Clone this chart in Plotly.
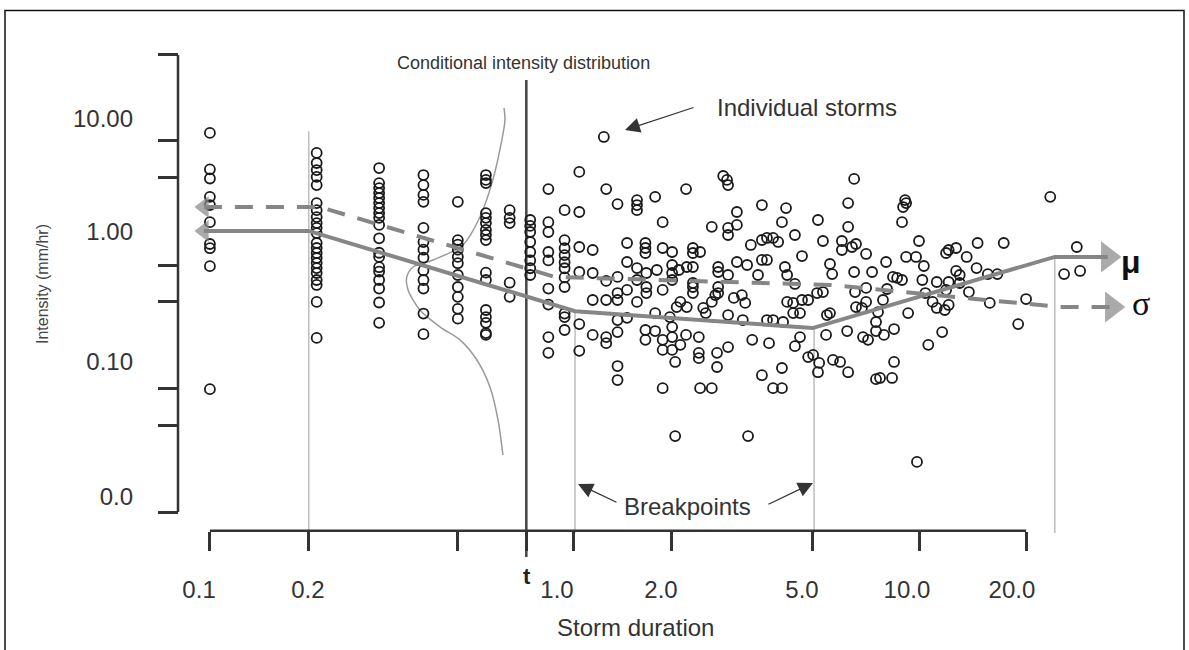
import plotly.graph_objects as go

# ---------------- data ----------------
col_duration = [0.1, 0.2, 0.3, 0.4, 0.5, 0.6, 0.7, 0.8, 0.9, 1.0]
col_intensity = [
    [6.3, 3.2, 2.7, 1.92, 1.65, 1.2, 0.80, 0.74, 0.53, 0.054],
    [4.34, 3.6, 3.16, 2.78, 2.39, 1.71, 1.5, 1.32, 1.18, 1.08, 0.98, 0.815, 0.743, 0.677,
     0.617, 0.562, 0.512, 0.467, 0.41, 0.374, 0.273, 0.14],
    [3.28, 2.48, 2.26, 2.06, 1.88, 1.71, 1.56, 1.42, 1.3, 1.14, 0.89, 0.68, 0.63, 0.52,
     0.48, 0.41, 0.35, 0.27, 0.185],
    [2.88, 2.39, 1.99, 1.75, 1.08, 0.83, 0.72, 0.62, 0.49, 0.41, 0.35, 0.22, 0.15],
    [1.75, 0.86, 0.79, 0.72, 0.63, 0.56, 0.45, 0.36, 0.30, 0.24, 0.20],
    [2.88, 2.63, 2.48, 1.42, 1.3, 1.18, 1.04, 0.95, 0.86, 0.47, 0.41, 0.235, 0.206, 0.185,
     0.153, 0.148],
    [1.5, 1.3, 1.18, 0.39, 0.30],
    [1.25, 1.12, 1.0, 0.83, 0.69, 0.59, 0.51, 0.45],
    [2.22, 1.2, 1.0, 0.69, 0.59, 0.35, 0.26, 0.142, 0.106],
    [1.5, 0.86, 0.74, 0.65, 0.57, 0.51, 0.43, 0.36, 0.22, 0.206, 0.162],
]

cloud_duration = [
    1.29, 1.10, 1.31, 2.20, 2.80, 2.87, 2.89, 1.41, 1.60, 1.60, 1.60, 1.80, 1.10, 1.89, 3.06,
    3.60, 4.21, 2.60, 2.89, 2.89, 3.06, 4.10, 4.46, 1.10, 1.20, 1.50, 1.69, 1.69, 1.69, 1.89,
    2.01, 2.30, 2.30, 2.41, 1.10, 1.20, 1.31, 1.41, 1.50, 1.60, 1.60, 1.70, 1.70, 1.70, 1.82,
    1.89, 2.01, 2.01, 2.01, 2.10, 2.21, 2.30, 2.30, 2.30, 2.71, 2.71, 2.71, 2.71, 2.89, 3.06,
    3.27, 3.35, 3.60, 3.72, 3.87, 4.00, 3.60, 3.72, 4.18, 4.24, 3.51, 1.20, 1.31, 1.41, 1.41,
    1.50, 1.60, 1.41, 1.50, 1.80, 1.98, 2.07, 2.12, 2.21, 2.30, 2.46, 2.50, 2.60, 2.66, 2.89,
    3.00, 3.16, 3.23, 3.18, 3.72, 3.87, 4.41, 4.41, 1.10, 1.10, 1.20, 1.31, 1.31, 1.41, 1.41,
    1.41, 1.69, 1.69, 1.80, 1.89, 1.89, 2.01, 2.01, 2.01, 2.05, 2.12, 2.20, 2.39, 2.39, 2.39,
    2.69, 2.69, 2.89, 3.38, 3.77, 3.60, 4.10, 1.89, 2.41, 2.60, 3.87, 4.10, 2.05, 3.29,
    6.55, 23.4, 6.30, 9.12, 9.18, 9.00, 8.94, 5.18, 6.30, 5.35, 6.05, 6.05, 6.63, 6.46, 7.08,
    4.67, 9.98, 14.6, 17.3, 5.60, 5.68, 6.55, 7.36, 8.06, 9.18, 9.79, 10.3, 11.9, 12.1, 12.7,
    13.6, 14.5, 15.6, 16.6, 12.7, 13.0, 4.46, 4.24, 4.67, 4.86, 5.15, 5.35, 6.59, 7.08, 7.08,
    8.11, 8.43, 8.66, 8.94, 10.2, 11.2, 11.9, 12.1, 13.0, 13.8, 15.8, 20.0, 19.0, 4.61, 5.49,
    5.60, 6.89, 6.63, 7.90, 7.65, 9.30, 10.4, 10.9, 11.2, 11.8, 12.1, 4.13, 5.46, 6.26, 7.55,
    7.55, 7.95, 8.49, 10.6, 11.6, 6.94, 7.17, 4.46, 4.61, 4.86, 5.02, 5.22, 5.18, 5.71, 5.98,
    6.30, 8.49, 7.55, 7.75, 8.38, 27.8, 25.6, 28.4, 9.85,
]
cloud_intensity = [
    5.84, 3.05, 2.22, 2.22, 2.83, 2.63, 2.39, 1.68, 1.81, 1.65, 1.50, 1.92, 1.45, 1.20, 1.45,
    1.65, 1.56, 1.10, 1.08, 0.946, 1.14, 1.20, 0.946, 0.757, 0.716, 0.815, 0.815, 0.743, 0.677, 0.743,
    0.690, 0.743, 0.677, 0.690, 0.476, 0.467, 0.403, 0.434, 0.573, 0.512, 0.410, 0.467, 0.360, 0.322, 0.494,
    0.341, 0.542, 0.467, 0.410, 0.494, 0.522, 0.522, 0.360, 0.322, 0.522, 0.476, 0.360, 0.322, 0.450, 0.573,
    0.542, 0.786, 0.862, 0.895, 0.895, 0.831, 0.595, 0.595, 0.522, 0.450, 0.450, 0.283, 0.283, 0.283, 0.322,
    0.341, 0.273, 0.195, 0.203, 0.222, 0.206, 0.248, 0.273, 0.248, 0.388, 0.244, 0.222, 0.273, 0.310, 0.214,
    0.294, 0.310, 0.268, 0.195, 0.195, 0.195, 0.222, 0.268, 0.181, 0.110, 0.148, 0.142, 0.127, 0.156, 0.083,
    0.064, 0.162, 0.135, 0.159, 0.135, 0.112, 0.171, 0.142, 0.112, 0.0895, 0.123, 0.148, 0.142, 0.106, 0.096,
    0.106, 0.0815, 0.118, 0.135, 0.127, 0.070, 0.080, 0.055, 0.055, 0.055, 0.055, 0.055, 0.0226, 0.0226,
    2.68, 1.92, 1.71, 1.81, 1.71, 1.59, 1.20, 1.25, 1.10, 0.846, 0.846, 0.716, 0.800, 0.757, 0.665,
    0.640, 0.846, 0.815, 0.815, 0.552, 0.458, 0.476, 0.476, 0.573, 0.629, 0.629, 0.532, 0.677, 0.716, 0.743,
    0.629, 0.512, 0.458, 0.458, 0.485, 0.450, 0.381, 0.273, 0.283, 0.283, 0.322, 0.328, 0.328, 0.354, 0.273,
    0.347, 0.434, 0.426, 0.410, 0.410, 0.395, 0.341, 0.395, 0.388, 0.328, 0.268, 0.288, 0.181, 0.222, 0.214,
    0.222, 0.244, 0.248, 0.283, 0.226, 0.222, 0.322, 0.273, 0.244, 0.235, 0.258, 0.188, 0.148, 0.159, 0.188,
    0.159, 0.148, 0.165, 0.123, 0.156, 0.142, 0.135, 0.120, 0.142, 0.098, 0.102, 0.088, 0.074, 0.093, 0.0895,
    0.074, 0.0895, 0.065, 0.0665, 0.0665, 0.757, 0.458, 0.485, 0.0140,
]

mu_duration = [0.0962, 0.19, 1.07, 5.0, 24.1, 34.0]
mu_intensity = [1.02, 1.02, 0.23, 0.168, 0.63, 0.63]
sigma_duration = [0.0962, 0.204, 0.94, 5.6, 24.9, 34.9]
sigma_intensity = [1.59, 1.59, 0.434, 0.374, 0.2485, 0.2485]

cond_duration = [0.675, 0.679, 0.657, 0.624, 0.577, 0.517, 0.426, 0.374, 0.359, 0.362,
                 0.391, 0.446, 0.507, 0.566, 0.616, 0.649, 0.670]
cond_intensity = [10.0, 8.0, 4.59, 2.48, 1.32, 0.786, 0.595, 0.522, 0.434, 0.340,
                  0.235, 0.171, 0.135, 0.0928, 0.0562, 0.0305, 0.0159]

breakpoint_duration = [0.19, 1.07, 5.05, 24.1]
breakpoint_top = [6.5, 0.23, 0.168, 0.63]
t_duration = 0.78

x_tick_marks = [0.1, 0.19, 0.5, 0.78, 1.06, 2.0, 5.0, 10.0, 20.0]
x_tick_labels = ["0.1", "0.2", "1.0", "2.0", "5.0", "10.0", "20.0"]
x_label_pos = [0.0932, 0.189, 0.952, 1.87, 4.67, 9.23, 18.25]

y_tick_marks = [26.8, 5.42, 2.73, 0.532, 0.273, 0.0542, 0.0273, 0.00552]
y_tick_labels = ["10.00", "1.00", "0.10", "0.0"]
y_label_pos = [8.15, 1.0, 0.0895, 0.0073]

# ---------------- layout geometry ----------------
W, H = 1189, 650
X_ONE_PIX, X_DEC = 564.6, 354.7      # pixel column of duration 1, pixels per decade
Y_ONE_PIX, Y_DEC = 232.0, 124.0      # pixel row of intensity 1, pixels per decade


def xval(px):
    return 10 ** ((px - X_ONE_PIX) / X_DEC)


def yval(py):
    return 10 ** ((Y_ONE_PIX - py) / Y_DEC)


def px_(px):
    return px / W


def py_(py):
    return 1 - py / H


XAXIS_ROW = 530.7
YAXIS_COL = 178.0
x_range = [(0 - X_ONE_PIX) / X_DEC, (W - X_ONE_PIX) / X_DEC]
y_range = [(Y_ONE_PIX - H) / Y_DEC, Y_ONE_PIX / Y_DEC]

FONT = "Liberation Sans, Arial, sans-serif"
AX = "#333333"
GRAY = "#868686"
LGRAY = "#bdbdbd"

storm_x, storm_y = [], []
for d, ints in zip(col_duration, col_intensity):
    for v in ints:
        storm_x.append(d)
        storm_y.append(v)
storm_x += cloud_duration
storm_y += cloud_intensity

fig = go.Figure()
base_y = yval(XAXIS_ROW)

# breakpoint reference lines
for bx, bt in zip(breakpoint_duration, breakpoint_top):
    fig.add_trace(go.Scatter(x=[bx, bx], y=[bt, yval(533)], mode="lines",
                             line=dict(color=LGRAY, width=1.5), hoverinfo="skip", showlegend=False))
# conditional time t
fig.add_trace(go.Scatter(x=[t_duration, t_duration], y=[yval(80), yval(557)], mode="lines",
                         line=dict(color="#444444", width=2.5), hoverinfo="skip", showlegend=False))
# axis lines
fig.add_trace(go.Scatter(x=[x_tick_marks[0], x_tick_marks[-1]], y=[base_y, base_y], mode="lines",
                         line=dict(color=AX, width=2.5), hoverinfo="skip", showlegend=False))
fig.add_trace(go.Scatter(x=[xval(YAXIS_COL)] * 2, y=[y_tick_marks[-1], y_tick_marks[0]], mode="lines",
                         line=dict(color=AX, width=2.5), hoverinfo="skip", showlegend=False))
# conditional distribution curve
fig.add_trace(go.Scatter(x=cond_duration, y=cond_intensity, mode="lines",
                         line=dict(color="#9a9a9a", width=1.5, shape="spline", smoothing=0.8),
                         hoverinfo="skip", showlegend=False))
# storms
fig.add_trace(go.Scatter(x=storm_x, y=storm_y, mode="markers",
                         marker=dict(symbol="circle-open", size=10, color="#1a1a1a",
                                     line=dict(width=1.8, color="#1a1a1a")),
                         showlegend=False))
# mu and sigma lines with arrow heads
n = len(mu_duration)
fig.add_trace(go.Scatter(x=mu_duration, y=mu_intensity, mode="lines+markers",
                         line=dict(color=GRAY, width=4),
                         marker=dict(symbol=["triangle-left"] + ["circle"] * (n - 2) + ["triangle-right"],
                                     size=[19] + [0] * (n - 2) + [27], color=GRAY, line=dict(width=0)),
                         showlegend=False))
fig.add_trace(go.Scatter(x=sigma_duration, y=sigma_intensity, mode="lines+markers",
                         line=dict(color=GRAY, width=4, dash="18px,13px"),
                         marker=dict(symbol=["triangle-left"] + ["circle"] * (n - 2) + ["triangle-right"],
                                     size=[19] + [0] * (n - 2) + [27], color=GRAY, line=dict(width=0)),
                         showlegend=False))
# dummy trace for label axes
fig.add_trace(go.Scatter(x=[1], y=[1], xaxis="x2", yaxis="y2", mode="markers",
                         marker=dict(opacity=0), hoverinfo="skip", showlegend=False))


def label(text, x, y, size, color="#333", family=FONT, **kw):
    return dict(text=text, x=px_(x), y=py_(y), xref="paper", yref="paper",
                xanchor=kw.pop("xanchor", "center"), yanchor="middle", showarrow=False,
                font=dict(size=size, color=color, family=family), **kw)


ann = [
    label("Conditional intensity distribution", 523, 63, 18),
    label("Individual storms", 715, 107, 24, xanchor="left"),
    label("Breakpoints", 687, 506, 24),
    label("Storm duration", 636, 627, 24),
    label("Intensity (mm/hr)", 42, 284, 16, color="#444", textangle=-90),
    label("<b>t</b>", 527, 576, 22, color="#222"),
    label("<b>μ</b>", 1131, 262, 32, color="#111"),
    label("σ", 1141, 304, 34, color="#111", family="Liberation Serif, serif"),
]
# arrows
for tip, tail in [((625, 130), (695, 107)), ((578, 484), (618, 503)), ((813, 483), (767, 505))]:
    ann.append(dict(text="", x=px_(tip[0]), y=py_(tip[1]), xref="paper", yref="paper",
                    ax=tail[0] - tip[0], ay=tail[1] - tip[1], showarrow=True,
                    arrowhead=2, arrowsize=2.3, arrowwidth=1.3, arrowcolor="#333"))

common = dict(type="log", showgrid=False, zeroline=False, showline=False)
fig.update_layout(
    width=W, height=H, autosize=False,
    margin=dict(l=0, r=0, t=0, b=0),
    paper_bgcolor="white", plot_bgcolor="white",
    hovermode=False,
    xaxis=dict(**common, range=x_range, anchor="free", position=py_(XAXIS_ROW),
               tickmode="array", tickvals=x_tick_marks, ticks="outside", ticklen=19, tickwidth=2.5,
               tickcolor=AX, showticklabels=False),
    xaxis2=dict(**common, range=x_range, overlaying="x", anchor="free", position=py_(573),
                tickmode="array", tickvals=x_label_pos, ticktext=x_tick_labels, ticks="",
                tickfont=dict(size=24, color="#333", family=FONT)),
    yaxis=dict(**common, range=y_range, anchor="free", position=px_(YAXIS_COL),
               tickmode="array", tickvals=y_tick_marks, ticks="outside", ticklen=20, tickwidth=2.5,
               tickcolor=AX, showticklabels=False),
    yaxis2=dict(**common, range=y_range, overlaying="y", anchor="free", position=px_(133),
                tickmode="array", tickvals=y_label_pos, ticktext=y_tick_labels, ticks="",
                tickfont=dict(size=24, color="#333", family=FONT)),
    annotations=ann,
    shapes=[dict(type="rect", xref="paper", yref="paper", x0=px_(5), x1=px_(1184), y0=py_(660), y1=py_(10.5),
                 line=dict(color="#111", width=1.5))],
)

fig.write_html("out.html")
